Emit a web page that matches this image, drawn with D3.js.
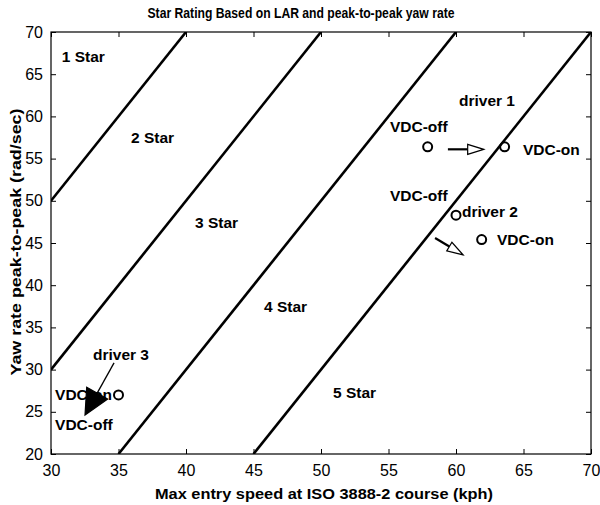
<!DOCTYPE html>
<html>
<head>
<meta charset="utf-8">
<title>Star Rating</title>
<script src="https://cdn.jsdelivr.net/npm/d3@7"></script>
<style>
  body { margin: 0; background: #fff; }
  svg text { font-family: "Liberation Sans", Arial, Helvetica, sans-serif; fill: #000; }
  .note { font-weight: bold; font-size: 15.5px; }
  .tick-label { font-size: 16px; }
</style>
</head>
<body>
<div id="chart"></div>
<script>
// axis ticks
var speedTicks = [30, 35, 40, 45, 50, 55, 60, 65, 70];
var yawTicks = [20, 25, 30, 35, 40, 45, 50, 55, 60, 65, 70];

// star boundary lines (speed, yaw) start and end
var boundaryStart = [[30, 50], [30, 30], [35, 20], [45, 20]];
var boundaryEnd   = [[40, 70], [50, 70], [60, 70], [70, 70]];

// measured points (circles)
var pointSpeed = [57.9, 63.6, 60.0, 61.9, 35.0];
var pointYaw   = [56.4, 56.4, 48.3, 45.4, 27.0];

// arrows: from -> to
var arrowFrom = [[59.4, 56.1], [58.45, 45.6], [34.67, 30.8]];
var arrowTo   = [[62.05, 56.1], [60.52, 43.6], [32.52, 24.62]];
var arrowFilled = [false, false, true];

// text annotations
var noteText  = ["1 Star", "2 Star", "3 Star", "4 Star", "5 Star",
                 "driver 1", "VDC-off", "VDC-on",
                 "VDC-off", "driver 2", "VDC-on",
                 "driver 3", "VDC-on", "VDC-off"];
var noteSpeed = [30.8, 35.93, 40.67, 45.78, 50.89,
                 60.22, 55.11, 64.96,
                 55.11, 60.44, 63.04,
                 33.11, 30.3, 30.3];
var noteYaw   = [66.4, 56.85, 46.78, 36.82, 26.64,
                 61.23, 58.15, 55.43,
                 49.98, 48.08, 44.76,
                 31.14, 26.4, 22.84];

var width = 600, height = 505;
var margin = {top: 32, right: 9, bottom: 51, left: 51};

var svg = d3.select("#chart").append("svg")
    .attr("width", width)
    .attr("height", height);

var x = d3.scaleLinear().domain([30, 70]).range([margin.left, width - margin.right]);
var y = d3.scaleLinear().domain([20, 70]).range([height - margin.bottom, margin.top]);

// clip for lines
svg.append("clipPath").attr("id", "plot-clip")
  .append("rect")
    .attr("x", x(30)).attr("y", y(70))
    .attr("width", x(70) - x(30)).attr("height", y(20) - y(70));

// axes with inward ticks, box on all sides
var tickLen = 5;
svg.append("g")
    .attr("transform", "translate(0," + y(20) + ")")
    .call(d3.axisBottom(x).tickValues(speedTicks).tickSizeInner(-tickLen).tickSizeOuter(0).tickPadding(11))
    .call(function(g) {
      g.select(".domain").remove();
      g.selectAll("text").attr("class", "tick-label").attr("font-size", null).attr("font-family", null);
    });
svg.append("g")
    .attr("transform", "translate(0," + y(70) + ")")
    .call(d3.axisTop(x).tickValues(speedTicks).tickSizeInner(-tickLen).tickSizeOuter(0).tickFormat(""))
    .call(function(g) { g.select(".domain").remove(); });
svg.append("g")
    .attr("transform", "translate(" + x(30) + ",0)")
    .call(d3.axisLeft(y).tickValues(yawTicks).tickSizeInner(-tickLen).tickSizeOuter(0).tickPadding(8))
    .call(function(g) {
      g.select(".domain").remove();
      g.selectAll("text").attr("class", "tick-label").attr("font-size", null).attr("font-family", null);
    });
svg.append("g")
    .attr("transform", "translate(" + x(70) + ",0)")
    .call(d3.axisRight(y).tickValues(yawTicks).tickSizeInner(-tickLen).tickSizeOuter(0).tickFormat(""))
    .call(function(g) { g.select(".domain").remove(); });

svg.selectAll(".tick line").attr("stroke", "#000");

svg.append("rect")
    .attr("x", x(30)).attr("y", y(70))
    .attr("width", x(70) - x(30)).attr("height", y(20) - y(70))
    .attr("fill", "none").attr("stroke", "#000").attr("stroke-width", 1.2);

// star boundary lines
svg.append("g").attr("clip-path", "url(#plot-clip)")
  .selectAll("line")
  .data(boundaryStart)
  .enter().append("line")
    .attr("x1", function(d) { return x(d[0]); })
    .attr("y1", function(d) { return y(d[1]); })
    .attr("x2", function(d, i) { return x(boundaryEnd[i][0]); })
    .attr("y2", function(d, i) { return y(boundaryEnd[i][1]); })
    .attr("stroke", "#000")
    .attr("stroke-width", 2.6);

// annotations
svg.append("g").selectAll("text")
  .data(noteText)
  .enter().append("text")
    .attr("class", "note")
    .attr("x", function(d, i) { return x(noteSpeed[i]); })
    .attr("y", function(d, i) { return y(noteYaw[i]); })
    .text(function(d) { return d; });

// arrows
var arrows = svg.append("g");
arrowFrom.forEach(function(f, i) {
  var x0 = x(f[0]), y0 = y(f[1]);
  var x1 = x(arrowTo[i][0]), y1 = y(arrowTo[i][1]);
  var dx = x1 - x0, dy = y1 - y0, len = Math.sqrt(dx * dx + dy * dy);
  var ux = dx / len, uy = dy / len;
  var headLen = arrowFilled[i] ? 25 : 16;
  var halfW = arrowFilled[i] ? 12 : 5;
  var bx = x1 - ux * headLen, by = y1 - uy * headLen;
  arrows.append("line")
      .attr("x1", x0).attr("y1", y0)
      .attr("x2", bx).attr("y2", by)
      .attr("stroke", "#000")
      .attr("stroke-width", arrowFilled[i] ? 1.3 : 2.2);
  arrows.append("polygon")
      .attr("points", [
        [x1, y1],
        [bx - uy * halfW, by + ux * halfW],
        [bx + uy * halfW, by - ux * halfW]
      ].map(function(p) { return p.join(","); }).join(" "))
      .attr("fill", arrowFilled[i] ? "#000" : "#fff")
      .attr("stroke", "#000")
      .attr("stroke-width", 1.2);
});

// circle markers
svg.append("g").selectAll("circle")
  .data(pointSpeed)
  .enter().append("circle")
    .attr("cx", function(d) { return x(d); })
    .attr("cy", function(d, i) { return y(pointYaw[i]); })
    .attr("r", 4.5)
    .attr("fill", "none")
    .attr("stroke", "#000")
    .attr("stroke-width", 2);

// titles
svg.append("text")
    .attr("x", 301).attr("y", 18)
    .attr("text-anchor", "middle")
    .attr("font-weight", "bold").attr("font-size", 15)
    .attr("textLength", 307).attr("lengthAdjust", "spacingAndGlyphs")
    .text("Star Rating Based on LAR and peak-to-peak yaw rate");

svg.append("text")
    .attr("x", 324).attr("y", 499)
    .attr("text-anchor", "middle")
    .attr("font-weight", "bold").attr("font-size", 15.5)
    .attr("textLength", 338).attr("lengthAdjust", "spacingAndGlyphs")
    .text("Max entry speed at ISO 3888-2 course (kph)");

svg.append("text")
    .attr("transform", "translate(21," + 242 + ") rotate(-90)")
    .attr("text-anchor", "middle")
    .attr("font-weight", "bold").attr("font-size", 15.5)
    .attr("textLength", 267).attr("lengthAdjust", "spacingAndGlyphs")
    .text("Yaw rate peak-to-peak (rad/sec)");
</script>
</body>
</html>
